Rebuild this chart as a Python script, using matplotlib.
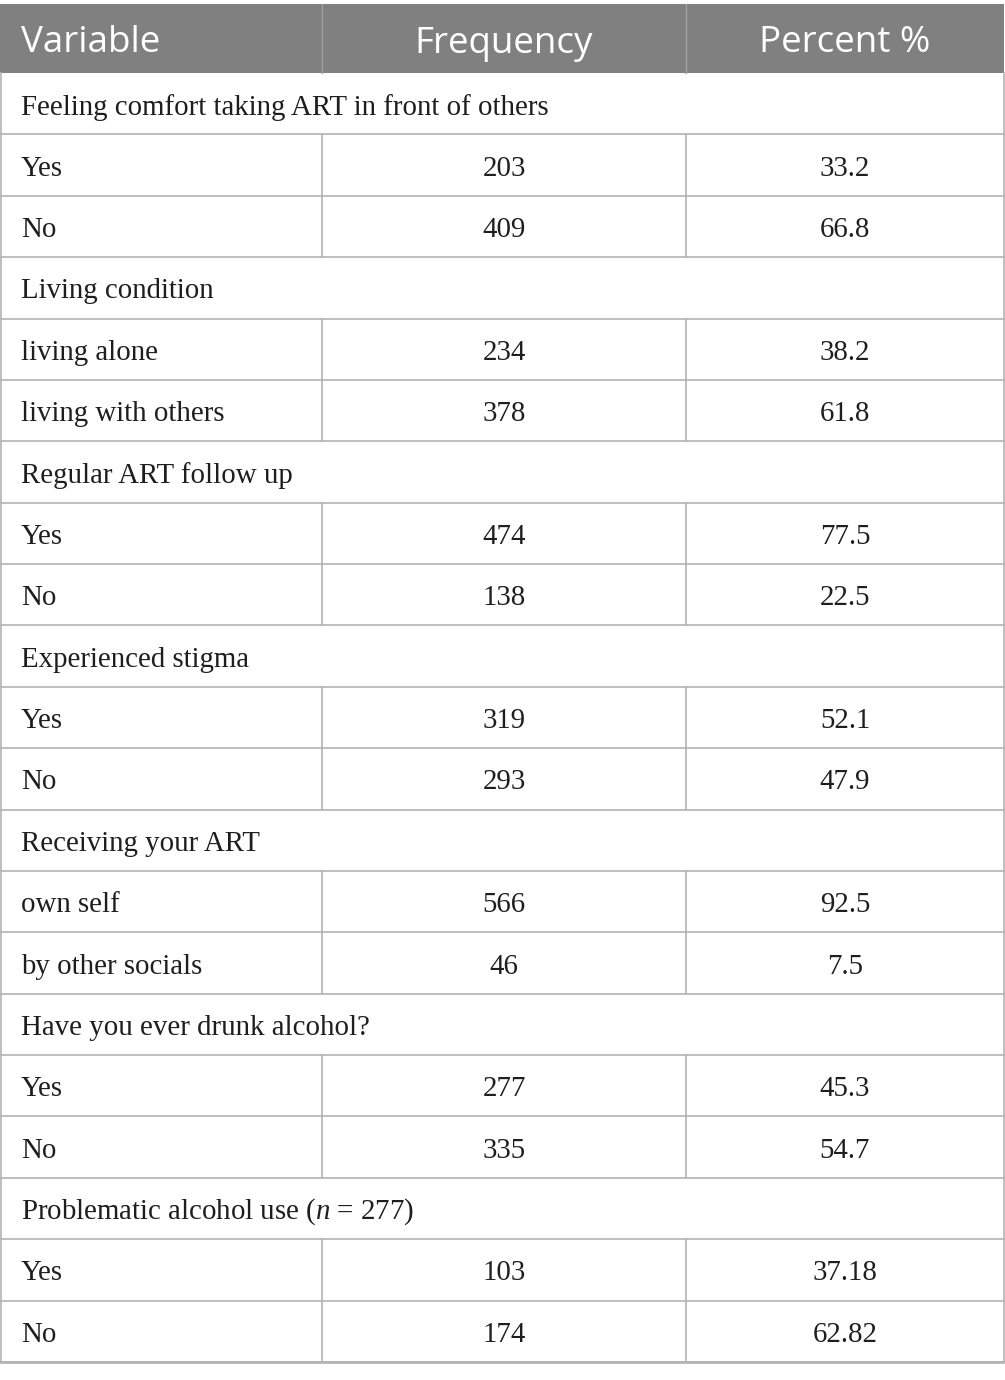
import matplotlib
matplotlib.use("Agg")
import matplotlib.pyplot as plt
from matplotlib.patches import Rectangle

plt.rcParams['mathtext.fontset'] = 'custom'
plt.rcParams['mathtext.rm'] = 'Liberation Serif'
plt.rcParams['mathtext.it'] = 'Liberation Serif:italic'

headers = ["Variable", "Frequency", "Percent %"]
groups = ["Feeling comfort taking ART in front of others",
          "Living condition",
          "Regular ART follow up",
          "Experienced stigma",
          "Receiving your ART",
          "Have you ever drunk alcohol?",
          "Problematic alcohol use ($n$ = 277)"]
levels = [["Yes", "No"],
          ["living alone", "living with others"],
          ["Yes", "No"],
          ["Yes", "No"],
          ["own self", "by other socials"],
          ["Yes", "No"],
          ["Yes", "No"]]
freqs = [[203, 409], [234, 378], [474, 138], [319, 293],
         [566, 46], [277, 335], [103, 174]]
percents = [["33.2", "66.8"], ["38.2", "61.8"], ["77.5", "22.5"],
            ["52.1", "47.9"], ["92.5", "7.5"], ["45.3", "54.7"],
            ["37.18", "62.82"]]

W, H = 1005, 1380
fig = plt.figure(figsize=(W / 100, H / 100), dpi=100)
ax = fig.add_axes([0, 0, 1, 1])
ax.set_xlim(0, W)
ax.set_ylim(H, 0)
ax.axis('off')

col_x = [0, 322, 686, 1004]
top, head_bot, bottom = 4, 73, 1362
n_rows = sum(1 + len(l) for l in levels)
row_h = (bottom - head_bot) / n_rows
line_c = '#b4b4b4'
txt_c = '#1e1e1e'
serif = 'Liberation Serif'
sans = 'Open Sans'

# header
ax.add_patch(Rectangle((col_x[0], top), col_x[-1] - col_x[0], head_bot - top,
                       facecolor='#808080', edgecolor='none'))
for x in col_x[1:-1]:
    ax.plot([x, x], [top, head_bot], color='#a0a0a0', lw=1)
hy = (top + head_bot) / 2 + 5
hfs = 26.5
ax.text(21, hy, headers[0], color='white', fontsize=hfs, family=sans, va='center', ha='left')
ax.text((col_x[1] + col_x[2]) / 2, hy, headers[1], color='white', fontsize=hfs, family=sans, va='center', ha='center')
ax.text((col_x[2] + col_x[3]) / 2, hy, headers[2], color='white', fontsize=hfs, family=sans, va='center', ha='center')

y = head_bot
fs = 20.8
dy = 3.5
for g, labs, fr, pc in zip(groups, levels, freqs, percents):
    ax.text(21, y + row_h / 2 + dy, g, fontsize=fs, family=serif, va='center', ha='left', color=txt_c)
    y += row_h
    ax.plot([col_x[0], col_x[-1]], [y, y], color=line_c, lw=1.2)
    for lab, f, p in zip(labs, fr, pc):
        cy = y + row_h / 2 + dy
        ax.text(21, cy, lab, fontsize=fs, family=serif, va='center', ha='left', color=txt_c)
        ax.text((col_x[1] + col_x[2]) / 2, cy, str(f), fontsize=fs, family=serif, va='center', ha='center', color=txt_c)
        ax.text((col_x[2] + col_x[3]) / 2, cy, p, fontsize=fs, family=serif, va='center', ha='center', color=txt_c)
        for x in col_x[1:-1]:
            ax.plot([x, x], [y, y + row_h], color=line_c, lw=1.2)
        y += row_h
        ax.plot([col_x[0], col_x[-1]], [y, y], color=line_c, lw=1.2)

# outer border
ax.plot([col_x[0] + 0.5, col_x[0] + 0.5], [head_bot, bottom], color=line_c, lw=1.2)
ax.plot([col_x[-1], col_x[-1]], [head_bot, bottom], color=line_c, lw=1.2)
ax.plot([col_x[0], col_x[-1]], [bottom, bottom], color=line_c, lw=2)

fig.savefig("out.png", dpi=100, facecolor='white')
